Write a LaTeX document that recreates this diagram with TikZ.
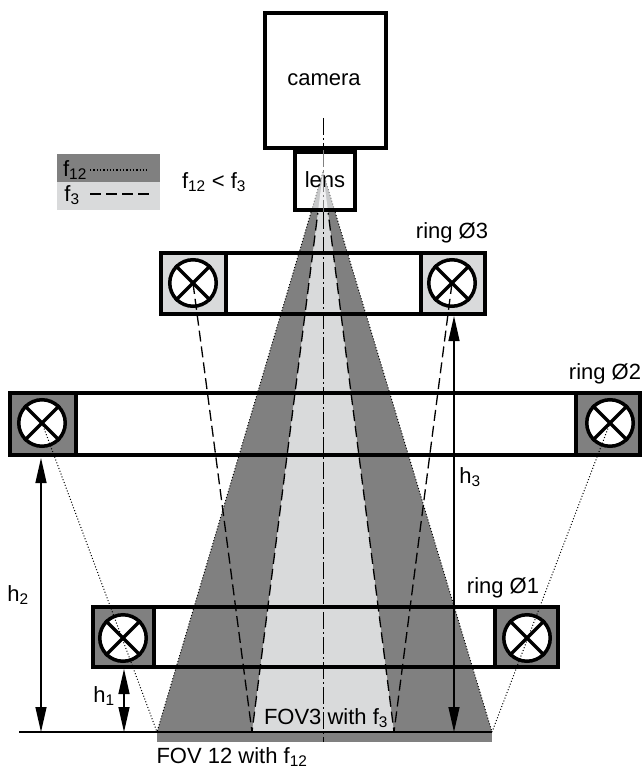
\documentclass[tikz,border=0pt]{standalone}
\usepackage{fontspec}
\setmainfont{Liberation Sans}
\usetikzlibrary{arrows.meta}
\definecolor{fovdark}{HTML}{808080}
\definecolor{fovlight}{HTML}{D9DADB}
\tikzset{
  housing/.style={draw,line width=4pt,rectangle,inner sep=0pt,outer sep=0pt},
  lampbox/.style={housing,minimum width=#1,minimum height=61pt},
  lamp/.style={circle,draw,fill=white,line width=3.5pt,minimum size=46.5pt,inner sep=0pt},
  label/.style={inner sep=0pt,font=\fontsize{22}{24}\selectfont},
  measure/.style={line width=1.3pt,{Triangle[length=25pt,width=11pt]}-{Triangle[length=25pt,width=11pt]}},
  focusdot/.style={line width=1pt,dotted},
  focusdash/.style={line width=1.3pt,dash pattern=on 11pt off 5pt},
  axisline/.style={line width=1pt,dash pattern=on 17pt off 3pt on 2pt off 3pt}
}
\begin{document}
\begin{tikzpicture}[x=1pt,y=-1pt]
  \useasboundingbox (0,0) rectangle (643,770);
  % cones
  \coordinate (apex) at (323,172);
  \coordinate (darkL) at (157,732);
  \coordinate (darkR) at (492,732);
  \coordinate (lightL) at (252,732);
  \coordinate (lightR) at (394,732);
  \coordinate (barend) at (492,742);
  \fill[fovdark] (apex) -- (darkL) -- (darkR) -- cycle;
  \fill[fovlight] (apex) -- (lightL) -- (lightR) -- cycle;
  \fill[fovdark] (darkL) rectangle (barend);
  \draw[focusdot] (apex) -- (darkL) (apex) -- (darkR);
  % camera
  \node[housing,minimum width=121pt,minimum height=135pt] (camera) at (325,80.5) {};
  \node[housing,fill=white,minimum width=60pt,minimum height=58pt] (lens) at (325,181) {};
  \begin{scope}
    \clip (lens.north west) rectangle (lens.south east);
    \fill[fovlight!80!fovdark] (apex) -- (darkL) -- (darkR) -- cycle;
    \fill[fovlight!40!white] (apex) -- (lightL) -- (lightR) -- cycle;
    \draw[focusdot,fovdark] (apex) -- (darkL) (apex) -- (darkR);
  \end{scope}
  \node[housing,minimum width=60pt,minimum height=58pt] (lensframe) at (325,181) {};
  \node[label] (cameratext) at (324,80) {camera};
  \node[label] (lenstext) at (325,180) {lens};
  % rings
  \node[housing,minimum width=323pt,minimum height=61pt] (ringthree) at (322.5,283.5) {};
  \node[housing,minimum width=630pt,minimum height=62pt] (ringtwo) at (325,424) {};
  \node[housing,minimum width=464pt,minimum height=60pt] (ringone) at (325,636.5) {};
  \node[lampbox=65pt,fill=fovlight] (boxthreeL) at (193.5,283.5) {};
  \node[lampbox=64pt,fill=fovlight] (boxthreeR) at (452.5,283.5) {};
  \node[lampbox=66pt,fill=fovdark,minimum height=62pt] (boxtwoL) at (43,424) {};
  \node[lampbox=64pt,fill=fovdark,minimum height=62pt] (boxtwoR) at (608,424) {};
  \node[lampbox=61pt,fill=fovdark,minimum height=60pt] (boxoneL) at (123,636.5) {};
  \node[lampbox=63pt,fill=fovdark,minimum height=60pt] (boxoneR) at (526.5,636.5) {};
  \foreach \lampname/\lampx/\lampy in {lampthreeL/193/283,lampthreeR/452/283,lamptwoL/42/423,
      lamptwoR/610/423,lamponeL/123/638,lamponeR/527/638}{
    \node[lamp] (\lampname) at (\lampx,\lampy) {};
    \draw[line width=3.5pt] (\lampname.north west) -- (\lampname.south east);
    \draw[line width=3.5pt] (\lampname.north east) -- (\lampname.south west);
  }
  % beams
  \begin{scope}
    \clip (0,213) rectangle (643,770);
    \draw[focusdash] (apex) -- (lightL);
    \draw[focusdash] (apex) -- (lightR);
  \end{scope}
  \draw[focusdash] (lampthreeL.center) -- (lightL);
  \draw[focusdash] (lampthreeR.center) -- (lightR);
  \draw[focusdot] (lamptwoL.center) -- (darkL);
  \draw[focusdot] (lamptwoR.center) -- (darkR);
  % axis and base line
  \coordinate (axistop) at (323,118);
  \coordinate (axislensa) at (323,150);
  \coordinate (axislensb) at (323,212);
  \coordinate (axisbottom) at (323,742);
  \draw[axisline] (axistop) -- (axislensa);
  \draw[axisline,fovdark] (axislensa) -- (axislensb);
  \draw[axisline] (axislensb) -- (axisbottom);
  \coordinate (basestart) at (19,732);
  \draw[line width=1.3pt] (basestart) -- (darkR);
  % heights
  \coordinate (hthreetop) at (454,316);
  \coordinate (hthreebase) at (454,732);
  \coordinate (htwotop) at (41,458);
  \coordinate (htwobase) at (41,732);
  \coordinate (honetop) at (124,669);
  \coordinate (honebase) at (124,732);
  \draw[measure] (hthreetop) -- (hthreebase);
  \draw[measure] (htwotop) -- (htwobase);
  \draw[measure] (honetop) -- (honebase);
  % legend
  \node[fill=fovdark,minimum width=103pt,minimum height=28pt,inner sep=0pt] (legenddark) at (108.5,168) {};
  \node[fill=fovlight,minimum width=103pt,minimum height=28pt,inner sep=0pt] (legendlight) at (108.5,196) {};
  \node[label] (legendftwelve) at (75,170) {f\textsubscript{12}};
  \node[label] (legendfthree) at (72,195) {f\textsubscript{3}};
  \coordinate (dotstart) at (90,170);
  \coordinate (dotend) at (148,170);
  \coordinate (dashstart) at (90,194);
  \coordinate (dashend) at (151,194);
  \draw[line width=1.3pt,dotted] (dotstart) -- (dotend);
  \draw[line width=1.1pt,dash pattern=on 11pt off 5pt] (dashstart) -- (dashend);
  % labels
  \node[label] (compare) at (214,182) {f\textsubscript{12} < f\textsubscript{3}};
  \node[label] (ringthreetext) at (452,233) {ring Ø3};
  \node[label] (ringtwotext) at (605,374) {ring Ø2};
  \node[label] (ringonetext) at (503,588) {ring Ø1};
  \node[label] (hthreetext) at (470,477) {h\textsubscript{3}};
  \node[label] (htwotext) at (18,595) {h\textsubscript{2}};
  \node[label] (honetext) at (104,696) {h\textsubscript{1}};
  \node[label] (fovthreetext) at (326,718) {FOV3 with f\textsubscript{3}};
  \node[label] (fovtwelvetext) at (232,757) {FOV 12 with f\textsubscript{12}};
\end{tikzpicture}
\end{document}
